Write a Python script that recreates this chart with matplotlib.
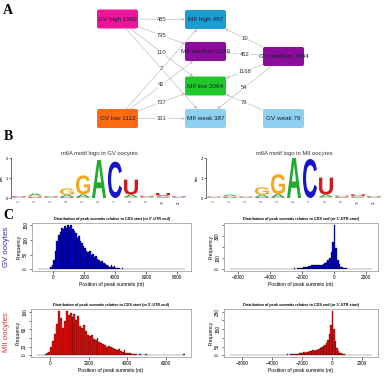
import numpy as np
import matplotlib
matplotlib.use('Agg')
import matplotlib.pyplot as plt
import matplotlib.transforms as mtransforms
from matplotlib.patches import FancyBboxPatch, PathPatch
from matplotlib.textpath import TextPath
from matplotlib.font_manager import FontProperties

# ---------------- data ----------------
# panel A: m6A peak classes in GV and MII oocytes and transitions between them
node_names = ['GV high', 'GV medium', 'GV low', 'GV weak',
              'MII high', 'MII medium', 'MII low', 'MII weak']
node_counts = [1392, 1684, 1112, 79, 497, 1289, 2094, 387]
edge_src = ['GV high', 'GV high', 'GV high', 'GV high',
            'GV low', 'GV low', 'GV low', 'GV low',
            'GV medium', 'GV medium', 'GV medium', 'GV medium', 'GV weak']
edge_dst = ['MII high', 'MII medium', 'MII low', 'MII weak',
            'MII high', 'MII medium', 'MII low', 'MII weak',
            'MII high', 'MII medium', 'MII low', 'MII weak', 'MII low']
edge_counts = [485, 795, 110, 2, 2, 42, 737, 331, 10, 452, 1168, 54, 79]

# panel B: motif logos, bits per position (1..11)
logo_pos = [1, 2, 3, 4, 5, 6, 7, 8, 9, 10, 11]
gv_A = [0.03, 0.10, 0.03, 0.10, 0.14, 1.90, 0.00, 0.12, 0.03, 0.03, 0.02]
gv_C = [0.02, 0.03, 0.02, 0.03, 0.02, 0.00, 1.82, 0.02, 0.02, 0.04, 0.02]
gv_G = [0.02, 0.06, 0.02, 0.32, 0.95, 0.00, 0.00, 0.03, 0.02, 0.04, 0.02]
gv_U = [0.03, 0.03, 0.03, 0.03, 0.02, 0.00, 0.00, 0.75, 0.04, 0.14, 0.03]
mii_A = [0.02, 0.07, 0.02, 0.10, 0.15, 2.00, 0.00, 0.12, 0.02, 0.03, 0.02]
mii_C = [0.02, 0.03, 0.02, 0.03, 0.02, 0.00, 1.95, 0.02, 0.03, 0.03, 0.02]
mii_G = [0.02, 0.04, 0.02, 0.38, 1.00, 0.00, 0.00, 0.03, 0.03, 0.04, 0.02]
mii_U = [0.02, 0.03, 0.02, 0.03, 0.02, 0.00, 0.00, 0.85, 0.04, 0.08, 0.03]

# panel C: peak summit histograms, 100 nt bins
bin_w = 100
gv_start_first = -1000
gv_start_counts = [
    1, 0, 0, 1, 0, 1, 0, 2, 6, 14,
    30, 62, 98, 118, 128, 142, 136, 148, 140, 152,
    146, 150, 138, 132, 124, 108, 112, 96, 88, 80,
    74, 62, 58, 64, 48, 52, 42, 46, 36, 32,
    26, 28, 20, 18, 14, 12, 9, 14, 8, 10,
    5, 4, 3, 2, 3, 1, 2, 1, 0, 1,
    0, 1, 0, 0, 1, 0, 0, 0, 0, 0,
    0, 0, 1, 0, 0, 0, 0, 0, 1, 0,
    0, 1, 0, 0, 0, 0, 0, 0, 0, 0,
    0, 0, 0, 0, 1]
gv_end_first = -6500
gv_end_counts = [
    0, 0, 1, 0, 0, 0, 1, 0, 0, 0,
    1, 0, 0, 0, 1, 0, 0, 0, 1, 0,
    0, 1, 0, 1, 0, 1, 1, 0, 1, 2,
    1, 2, 1, 3, 2, 4, 3, 5, 4, 6,
    7, 6, 8, 9, 11, 12, 16, 18, 22, 26,
    30, 34, 38, 36, 40, 38, 36, 42, 48, 55,
    62, 80, 105, 160, 250, 405, 190, 85, 45, 24,
    16, 11, 8, 5, 4, 3, 2, 1, 2, 1,
    0, 1, 0, 0, 1, 0, 0, 0, 1]
mii_start_first = -700
mii_start_counts = [
    1, 0, 1, 0, 2, 4, 8, 18, 32, 50,
    72, 102, 86, 64, 80, 103, 94, 98, 88, 96,
    82, 92, 68, 62, 70, 56, 48, 44, 46, 38,
    36, 40, 30, 28, 26, 24, 20, 22, 18, 16,
    14, 12, 15, 9, 8, 12, 6, 5, 4, 3,
    2, 3, 1, 2, 1, 0, 2, 1, 0, 0,
    1, 0, 0, 1, 0, 0, 0, 1, 0, 0,
    0, 0, 0, 0, 0, 0, 2]
mii_end_first = -6800
mii_end_counts = [
    1, 0, 0, 0, 1, 0, 0, 0, 0, 1,
    0, 0, 0, 1, 0, 0, 1, 0, 0, 0,
    1, 0, 1, 0, 1, 0, 1, 1, 0, 1,
    2, 1, 1, 2, 3, 2, 3, 4, 8, 4,
    6, 5, 7, 6, 8, 9, 10, 12, 14, 16,
    15, 20, 18, 24, 22, 28, 26, 32, 30, 36,
    40, 45, 52, 60, 72, 90, 120, 175, 255, 150,
    80, 42, 24, 15, 10, 7, 5, 4, 3, 2,
    2, 1, 2, 1, 1, 0, 1, 0, 0, 1,
    0, 0, 1, 0, 1]

# ---------------- layout ----------------
W, H = 389, 378
fig = plt.figure(figsize=(W / 100, H / 100), dpi=100)
plt.rcParams['font.family'] = ['Liberation Sans', 'DejaVu Sans']


def px_axes(x0, y0, x1, y1):
    return fig.add_axes([x0 / W, 1 - y1 / H, (x1 - x0) / W, (y1 - y0) / H])


# panel letters
for lab, y in [('A', 11), ('B', 137), ('C', 215)]:
    fig.text(8 / W, 1 - y / H, lab, fontsize=10, fontweight='bold',
             family='Liberation Serif', ha='center', va='center')

# ---- A: network ----
node_xy = {'GV high': (117.5, 19), 'GV medium': (283.5, 56.5), 'GV low': (117.5, 118.5),
           'GV weak': (283.5, 118.5), 'MII high': (205.5, 19.5), 'MII medium': (205.5, 51.5),
           'MII low': (205.5, 86), 'MII weak': (205.5, 118.5)}
node_color = {'GV high': '#f0149a', 'MII high': '#1b9dd2', 'MII medium': '#8c0c9c',
              'GV medium': '#8c0c9c', 'MII low': '#20c82c', 'GV low': '#fd6a12',
              'MII weak': '#8fd0f0', 'GV weak': '#8fd0f0'}
bw, bh = 41, 19

axA = px_axes(0, 0, W, 132)
axA.set_xlim(0, W)
axA.set_ylim(132, 0)
axA.axis('off')
boxes = {}
for name, cnt in zip(node_names, node_counts):
    cx, cy = node_xy[name]
    p = FancyBboxPatch((cx - bw / 2, cy - bh / 2), bw, bh,
                       boxstyle='round,pad=0,rounding_size=2',
                       fc=node_color[name], ec='none', zorder=2)
    axA.add_patch(p)
    boxes[name] = p
    axA.text(cx, cy, f'{name} {cnt}', fontsize=4.6, color='#1c1c3c',
             ha='center', va='center', zorder=4)
for s, d, c in zip(edge_src, edge_dst, edge_counts):
    (x0, y0), (x1, y1) = node_xy[s], node_xy[d]
    axA.annotate('', xy=(x1, y1), xytext=(x0, y0), zorder=1,
                 arrowprops=dict(arrowstyle='-|>', color='#c2c2c2', lw=0.5,
                                 mutation_scale=4, patchA=boxes[s], patchB=boxes[d],
                                 shrinkA=0, shrinkB=0))
    axA.text((x0 + x1) / 2, (y0 + y1) / 2, str(c), fontsize=4.2, color='#333333',
             ha='center', va='center', zorder=3,
             bbox=dict(fc='white', ec='none', pad=0.2))

# ---- B: motif logos ----
letter_font = FontProperties(family='Liberation Sans', weight='bold')
letter_color = {'A': '#22aa33', 'C': '#1616c8', 'G': '#f5a623', 'U': '#d01c1c'}


def draw_letter(ax, ch, x, y, w, h):
    tp = TextPath((0, 0), ch, size=1, prop=letter_font)
    bb = tp.get_extents()
    tr = (mtransforms.Affine2D().translate(-bb.x0, -bb.y0)
          .scale(w / bb.width, h / bb.height).translate(x - w / 2, y))
    ax.add_patch(PathPatch(tr.transform_path(tp), fc=letter_color[ch], ec='none'))


def draw_logo(ax, heights, title):
    for i, pos in enumerate(logo_pos):
        stack = sorted(((heights[ch][i], ch) for ch in 'ACGU'))
        y = 0.0
        for h, ch in stack:
            if h > 0.004:
                draw_letter(ax, ch, pos, y, 0.88, h)
                y += h
    ax.set_xlim(0.5, len(logo_pos) + 0.5)
    ax.set_ylim(0, 2)
    for sp in ['top', 'right', 'bottom']:
        ax.spines[sp].set_visible(False)
    ax.spines['left'].set_linewidth(0.4)
    ax.set_yticks([0, 1, 2])
    ax.set_xticks(logo_pos)
    ax.set_xticklabels([str(p) for p in logo_pos], rotation=90)
    ax.tick_params(axis='y', labelsize=3, length=1.5, width=0.4, pad=0.8)
    ax.tick_params(axis='x', labelsize=2.5, length=0, pad=1.5, colors='#444444')
    ax.set_ylabel('bits', fontsize=2.8, labelpad=1)
    ax.set_title(title, fontsize=4.2, color='#333333', pad=2.5)


axB1 = px_axes(11, 158, 187, 198)
draw_logo(axB1, {'A': gv_A, 'C': gv_C, 'G': gv_G, 'U': gv_U}, 'm6A motif logo in GV oocytes')
axB2 = px_axes(206, 158, 382, 198)
draw_logo(axB2, {'A': mii_A, 'C': mii_C, 'G': mii_G, 'U': mii_U}, 'm6A motif logo in MII oocytes')

# ---- C: histograms ----
title_start = "Distribution of peak summits relative to CDS start (or 5'-UTR end)"
title_end = "Distribution of peak summits relative to CDS end (or 3'-UTR start)"


def draw_hist(ax, first, counts, color, title, xticks, yticks, ylabels):
    counts = np.array(counts)
    edges = first + bin_w * np.arange(len(counts) + 1)
    ax.bar(edges[:-1], counts, width=bin_w, align='edge', color=color,
           edgecolor='black', linewidth=0.2)
    a, b = edges[0], edges[-1]
    ax.set_xlim(a - 0.04 * (b - a), b + 0.04 * (b - a))
    m = counts.max()
    ax.set_ylim(-0.04 * m, 1.04 * m)
    ax.set_xticks(xticks)
    ax.set_yticks(yticks)
    ax.set_yticklabels(ylabels, rotation=90, va='center')
    ax.tick_params(labelsize=3.4, length=1.8, width=0.4, pad=1)
    for sp in ax.spines.values():
        sp.set_linewidth(0.4)
        sp.set_color('#777777')
    ax.set_title(title, fontsize=2.7, fontweight='bold', pad=2.5)
    ax.set_xlabel('Position of peak summits (nt)', fontsize=3.6, labelpad=1.5)
    ax.set_ylabel('Frequency', fontsize=3.6, labelpad=1)


ax = px_axes(32, 223, 191, 271)
draw_hist(ax, gv_start_first, gv_start_counts, '#0000d8', title_start,
          [0, 2000, 4000, 6000, 8000], [0, 50, 100, 150], ['0', '50', '100', '150'])
ax = px_axes(224, 223, 378, 271)
draw_hist(ax, gv_end_first, gv_end_counts, '#0000d8', title_end,
          [-6000, -4000, -2000, 0, 2000], [0, 100, 200, 300, 400], ['0', '100', '', '300', ''])
ax = px_axes(31, 309, 191, 357)
draw_hist(ax, mii_start_first, mii_start_counts, '#ee1111', title_start,
          [0, 2000, 4000, 6000], [0, 20, 40, 60, 80, 100], ['0', '20', '', '60', '', '100'])
ax = px_axes(224, 309, 378, 357)
draw_hist(ax, mii_end_first, mii_end_counts, '#ee1111', title_end,
          [-6000, -4000, -2000, 0, 2000], [0, 50, 100, 150, 200, 250], ['0', '50', '', '150', '', '250'])

fig.text(7 / W, 1 - 247 / H, 'GV oocytes', rotation=90, color='#2a2ab0', fontsize=5.6,
         ha='center', va='center')
fig.text(7 / W, 1 - 332 / H, 'MII oocytes', rotation=90, color='#ee2a2a', fontsize=5.6,
         ha='center', va='center')

fig.savefig('out.png', dpi=100)
